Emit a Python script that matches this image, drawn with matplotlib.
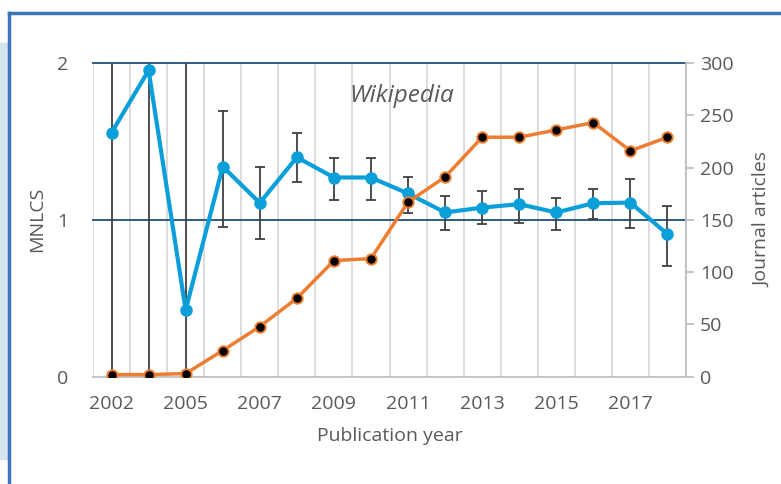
import matplotlib
matplotlib.use("Agg")
import matplotlib.pyplot as plt
from matplotlib.patches import Rectangle
from matplotlib.lines import Line2D
import numpy as np

plt.rcParams['font.family'] = ['Open Sans', 'DejaVu Sans']

# data
years = ['2002', '2003', '2005', '2006', '2007', '2008', '2009', '2010',
         '2011', '2012', '2013', '2014', '2015', '2016', '2017', '2018']
mnlcs = [1.556, 1.953, 0.425, 1.34, 1.108, 1.399, 1.27, 1.27,
         1.168, 1.047, 1.078, 1.10, 1.047, 1.106, 1.11, 0.909]
ci_upper = [5.0, 5.0, 5.0, 1.696, 1.334, 1.551, 1.394, 1.394,
            1.276, 1.153, 1.187, 1.198, 1.138, 1.198, 1.26, 1.089]
ci_lower = [-5.0, -5.0, -5.0, 0.957, 0.877, 1.244, 1.128, 1.128,
            1.043, 0.936, 0.972, 0.983, 0.936, 1.006, 0.947, 0.706]
articles = [2, 2, 3, 25, 48, 75, 111, 113,
            167, 191, 229, 229, 236, 243, 216, 229]

blue = '#0a9fd8'
orange = '#ed7d31'
grey_text = '#595959'
light_grid = '#d9d9d9'

x = np.arange(len(years))
mnlcs = np.array(mnlcs)
yerr = [mnlcs - np.array(ci_lower), np.array(ci_upper) - mnlcs]

fig = plt.figure(figsize=(7.81, 4.84), dpi=100)
ax = fig.add_axes([93 / 781, 1 - 376.7 / 484, (686 - 93) / 781, (376.7 - 63) / 484])
ax2 = ax.twinx()

# frame and left panel of the page
fig.patches.append(Rectangle((0, 1 - 459 / 484), 7.5 / 781, (459 - 43) / 484,
                             transform=fig.transFigure, color='#d3e4ee', zorder=0))
fig.lines.append(Line2D([8.5 / 781, 8.5 / 781], [0, 1 - 13 / 484], transform=fig.transFigure,
                        color='#3a76b6', lw=2.5))
fig.lines.append(Line2D([8.5 / 781, 1], [1 - 13 / 484, 1 - 13 / 484], transform=fig.transFigure,
                        color='#3a76b6', lw=2.5))

# horizontal gridlines at 1 and 2
for yv in [1, 2]:
    ax.axhline(yv, color='#1f4e79', lw=1.3, zorder=1, clip_on=False)

# MNLCS with confidence intervals
ax.errorbar(x, mnlcs, yerr=yerr, fmt='none', ecolor='#404040', elinewidth=1.3,
            capsize=3.5, capthick=1.3, zorder=3)
ax.plot(x, mnlcs, color=blue, lw=3, marker='o', markersize=8, zorder=4)

# journal articles
ax2.plot(x, articles, color=orange, lw=2.5, marker='o', markersize=7.5,
         markerfacecolor='black', markeredgecolor=orange, markeredgewidth=1.4, zorder=5)

ax.set_xlim(-0.5, len(years) - 0.5)
ax.set_ylim(0, 2)
ax2.set_ylim(0, 300)

ax.set_xticks(x[::2])
ax.set_xticklabels(years[::2])
ax.set_xticks(np.arange(-0.5, len(years), 1), minor=True)
ax.set_yticks([0, 1, 2])
ax2.set_yticks(np.arange(0, 301, 50))

ax.grid(axis='x', which='minor', color=light_grid, lw=1.3)
ax.set_axisbelow(True)

for s in ['top', 'left', 'right']:
    ax.spines[s].set_visible(False)
ax.spines['bottom'].set_color('#bfbfbf')
ax.spines['bottom'].set_linewidth(1.3)
for s in ['top', 'left', 'bottom']:
    ax2.spines[s].set_visible(False)
ax2.spines['right'].set_color('#bfbfbf')
ax2.spines['right'].set_linewidth(1.3)

ax.tick_params(axis='x', which='both', length=0, labelsize=14, labelcolor=grey_text, pad=13)
ax.tick_params(axis='y', length=0, labelsize=14, labelcolor=grey_text, pad=18)
ax2.tick_params(axis='y', length=6, width=1.3, color='#bfbfbf', direction='out',
                labelsize=14, labelcolor=grey_text, pad=4)

ax.set_xlabel('Publication year', fontsize=14, color=grey_text, labelpad=10)
ax.set_ylabel('MNLCS', fontsize=14, color=grey_text, labelpad=8)
ax2.set_ylabel('Journal articles', fontsize=14, color=grey_text, labelpad=14)

ax.text(0.52, 0.895, 'Wikipedia', transform=ax.transAxes, ha='center', va='center',
        fontsize=17.5, style='italic', color=grey_text)

plt.savefig('out.png', dpi=100)
